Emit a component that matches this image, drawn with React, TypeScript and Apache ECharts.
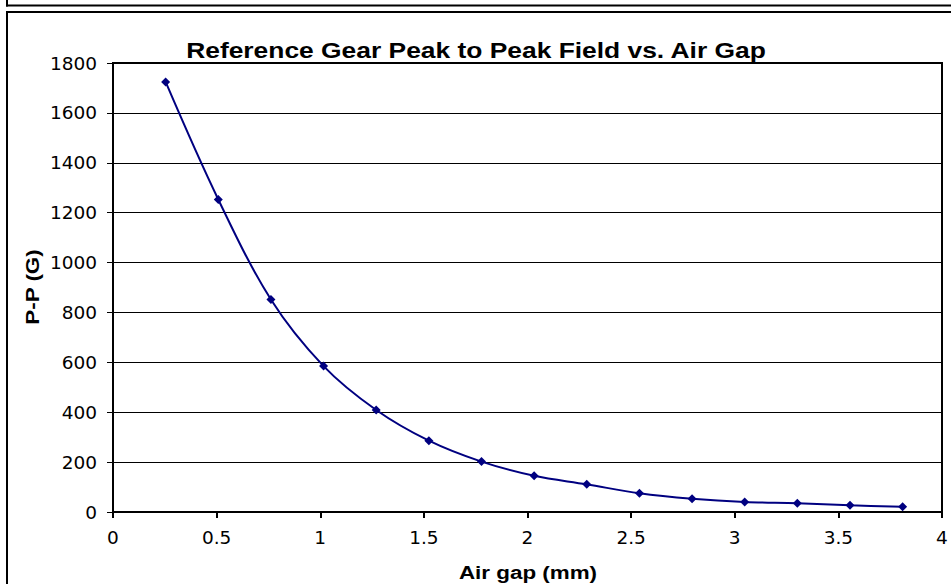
import React, { useEffect, useRef } from "react";
import * as echarts from "echarts";

const airGapMm: number[] = [0.254, 0.508, 0.762, 1.016, 1.27, 1.524, 1.778, 2.032, 2.286, 2.54, 2.794, 3.048, 3.302, 3.556, 3.81];
const peakToPeakG: number[] = [1724, 1253, 852, 585, 409, 286, 202, 145, 111, 75, 53, 40, 35, 27, 21];
const xTicks = { min: 0, max: 4, interval: 0.5 };
const yTicks = { min: 0, max: 1800, interval: 200 };

const titleText = "Reference Gear Peak to Peak Field vs. Air Gap";
const xName = "Air gap (mm)";
const yName = "P-P (G)";

const FONT = "'Liberation Sans', Arial, sans-serif";
const TICK_FONT = "'DejaVu Sans', 'Liberation Sans', sans-serif";

export default function App() {
  const ref = useRef<HTMLDivElement>(null);
  useEffect(() => {
    if (!ref.current) return;
    const chart = echarts.init(ref.current, null, { renderer: "svg" });
    const data = airGapMm.map((x, i) => [x, peakToPeakG[i]]);
    chart.setOption({
      animation: false,
      backgroundColor: "#ffffff",
      grid: {
        left: 113,
        right: 9,
        top: 63,
        bottom: 72,
        show: true,
        borderColor: "#000",
        borderWidth: 2,
        backgroundColor: "transparent",
      },
      xAxis: {
        type: "value",
        min: xTicks.min,
        max: xTicks.max,
        interval: xTicks.interval,
        axisLine: { show: true, onZero: false, lineStyle: { color: "#000", width: 2 } },
        axisTick: { show: true, length: 6, lineStyle: { color: "#000", width: 2 } },
        axisLabel: { color: "#000", fontSize: 18.5, fontFamily: TICK_FONT, margin: 16, formatter: (v: number) => String(v) },
        splitLine: { show: false },
      },
      yAxis: {
        type: "value",
        min: yTicks.min,
        max: yTicks.max,
        interval: yTicks.interval,
        axisLine: { show: true, lineStyle: { color: "#000", width: 2 } },
        axisTick: { show: true, length: 6, lineStyle: { color: "#000", width: 1 } },
        axisLabel: { color: "#000", fontSize: 18.5, fontFamily: TICK_FONT, margin: 16, formatter: (v: number) => String(v) },
        splitLine: { show: true, lineStyle: { color: "#000", width: 1 } },
      },
      series: [
        {
          type: "line",
          data,
          smooth: 0.35,
          symbol: "diamond",
          symbolSize: 9,
          lineStyle: { color: "#000080", width: 2 },
          itemStyle: { color: "#000080" },
        },
      ],
      graphic: [
        { type: "line", shape: { x1: 7, y1: 0, x2: 7, y2: 6.5 }, style: { stroke: "#000", lineWidth: 2 } },
        { type: "line", shape: { x1: 6, y1: 5.5, x2: 951, y2: 5.5 }, style: { stroke: "#000", lineWidth: 2 } },
        { type: "line", shape: { x1: 6, y1: 12, x2: 951, y2: 12 }, style: { stroke: "#000", lineWidth: 2 } },
        { type: "line", shape: { x1: 7, y1: 11, x2: 7, y2: 584 }, style: { stroke: "#000", lineWidth: 2 } },
        {
          type: "text",
          x: 476,
          y: 50,
          scaleX: 1.2,
          style: {
            text: titleText,
            fontSize: 22,
            fontWeight: "bold",
            fontFamily: FONT,
            fill: "#000",
            align: "center",
            verticalAlign: "middle",
          },
        },
        {
          type: "text",
          x: 528,
          y: 572,
          scaleX: 1.18,
          style: {
            text: xName,
            fontSize: 19,
            fontWeight: "bold",
            fontFamily: FONT,
            fill: "#000",
            align: "center",
            verticalAlign: "middle",
          },
        },
        {
          type: "text",
          x: 32,
          y: 287,
          rotation: Math.PI / 2,
          scaleX: 1.18,
          style: {
            text: yName,
            fontSize: 19,
            fontWeight: "bold",
            fontFamily: FONT,
            fill: "#000",
            align: "center",
            verticalAlign: "middle",
          },
        },
      ],
    });
    return () => chart.dispose();
  }, []);
  return (
    <div
      ref={ref}
      style={{ position: "absolute", left: 0, top: 0, width: 951, height: 584, background: "#fff" }}
    />
  );
}
